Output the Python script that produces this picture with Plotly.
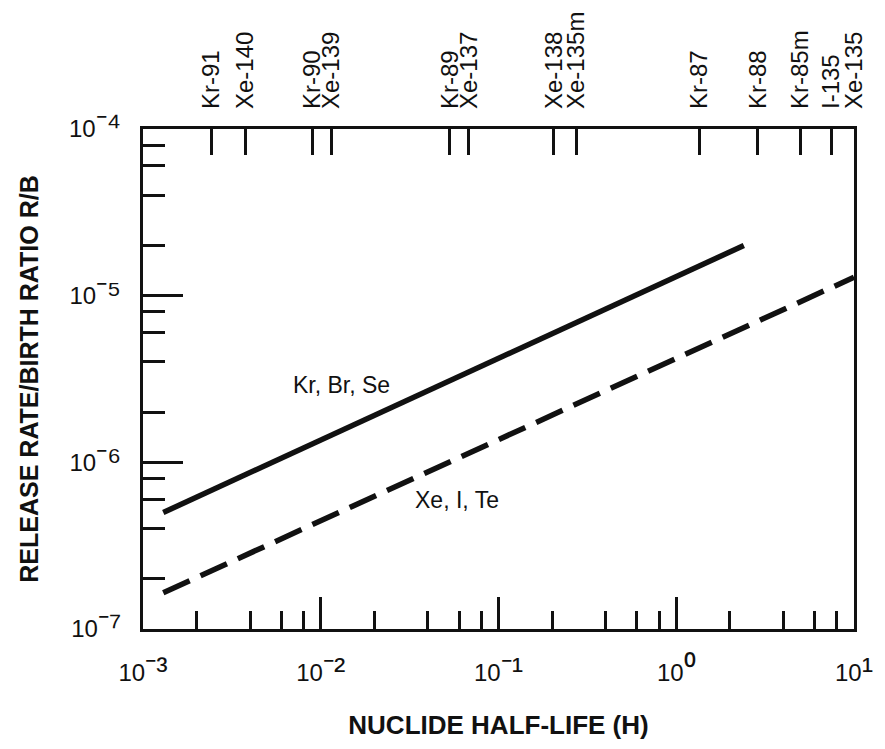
import plotly.graph_objects as go

# ---- data ----
kr_half_life = [1.3e-3, 2.4]          # hours
kr_ratio = [5.0e-7, 2.0e-5]
xe_half_life = [1.3e-3, 10.0]
xe_ratio = [1.65e-7, 1.29e-5]

nuclides = ["Kr-91", "Xe-140", "Kr-90", "Xe-139", "Kr-89", "Xe-137",
            "Xe-138", "Xe-135m", "Kr-87", "Kr-88", "Kr-85m", "I-135", "Xe-135"]
nuclide_half_life = [2.42e-3, 3.75e-3, 8.98e-3, 1.145e-2, 0.0533, 0.068,
                     0.205, 0.275, 1.35, 2.88, 5.0, 7.45, 10.0]

x_major = [1e-3, 1e-2, 1e-1, 1e0, 1e1]
x_exp = ["⁻³", "⁻²", "⁻¹", "⁰", "¹"]
y_major = [1e-7, 1e-6, 1e-5, 1e-4]
y_exp = ["⁻⁷", "⁻⁶", "⁻⁵", "⁻⁴"]
minor_digits = [2, 4, 6, 8]

x_minor = [d * m for m in x_major[:-1] for d in minor_digits]
y_minor = [d * m for m in y_major[:-1] for d in minor_digits]


def power_label(e):
    return "10<span style='font-size:34px'>" + e + "</span>"


x_major_text = [power_label(e) for e in x_exp]
y_major_text = [power_label(e) for e in y_exp]

FONT = "Liberation Sans, Arial, sans-serif"
INK = "#111111"

fig = go.Figure()
fig.add_trace(go.Scatter(x=kr_half_life, y=kr_ratio, mode="lines",
                         line=dict(color=INK, width=5.5), showlegend=False, hoverinfo="skip"))
fig.add_trace(go.Scatter(x=xe_half_life, y=xe_ratio, mode="lines",
                         line=dict(color=INK, width=5.5, dash="29px,12px"), showlegend=False, hoverinfo="skip"))
# invisible trace to carry the top nuclide axis
fig.add_trace(go.Scatter(x=nuclide_half_life, y=[1e-6] * len(nuclide_half_life), xaxis="x2",
                         mode="markers", marker=dict(opacity=0), showlegend=False, hoverinfo="skip"))

fig.add_annotation(x=-1.886, y=-5.538, xref="x", yref="y", text="Kr, Br, Se", showarrow=False,
                   font=dict(family=FONT, size=23, color=INK))
fig.add_annotation(x=-1.234, y=-6.225, xref="x", yref="y", text="Xe, I, Te", showarrow=False,
                   font=dict(family=FONT, size=23, color=INK))

fig.update_layout(
    width=885, height=749,
    margin=dict(l=143, r=24, t=122, b=120),
    paper_bgcolor="white", plot_bgcolor="white",
    font=dict(family=FONT, color=INK),
    xaxis=dict(
        type="log", range=[-3, 1], showgrid=False, zeroline=False,
        showline=True, linewidth=3, linecolor=INK, mirror=True,
        tickmode="array", tickvals=x_major, ticktext=x_major_text,
        ticks="inside", ticklen=32, tickwidth=3, tickcolor=INK,
        tickfont=dict(family=FONT, size=24, color=INK), ticklabelstandoff=20,
        minor=dict(tickmode="array", tickvals=x_minor, ticks="inside", ticklen=18,
                   tickwidth=3, tickcolor=INK, showgrid=False),
        title=dict(text="<b>NUCLIDE HALF-LIFE (H)</b>", font=dict(family=FONT, size=26, color=INK),
                   standoff=30),
    ),
    xaxis2=dict(
        type="log", range=[-3, 1], overlaying="x", side="top", anchor="y",
        showgrid=False, zeroline=False, showline=False,
        tickmode="array", tickvals=nuclide_half_life, ticktext=nuclides, tickangle=-90,
        ticks="inside", ticklen=26, tickwidth=3, tickcolor=INK,
        tickfont=dict(family=FONT, size=24, color=INK), ticklabelstandoff=19,
    ),
    yaxis=dict(
        type="log", range=[-7, -4], showgrid=False, zeroline=False,
        showline=True, linewidth=3, linecolor=INK, mirror=True,
        tickmode="array", tickvals=y_major, ticktext=y_major_text,
        ticks="inside", ticklen=40, tickwidth=3, tickcolor=INK,
        tickfont=dict(family=FONT, size=24, color=INK), ticklabelstandoff=14,
        minor=dict(tickmode="array", tickvals=y_minor, ticks="inside", ticklen=22,
                   tickwidth=3, tickcolor=INK, showgrid=False),
        title=dict(text="<b>RELEASE RATE/BIRTH RATIO R/B</b>", font=dict(family=FONT, size=25, color=INK),
                   standoff=24),
    ),
)

fig.write_html("out.html", config={"displayModeBar": False},
               post_script="document.body.style.margin='0';")
